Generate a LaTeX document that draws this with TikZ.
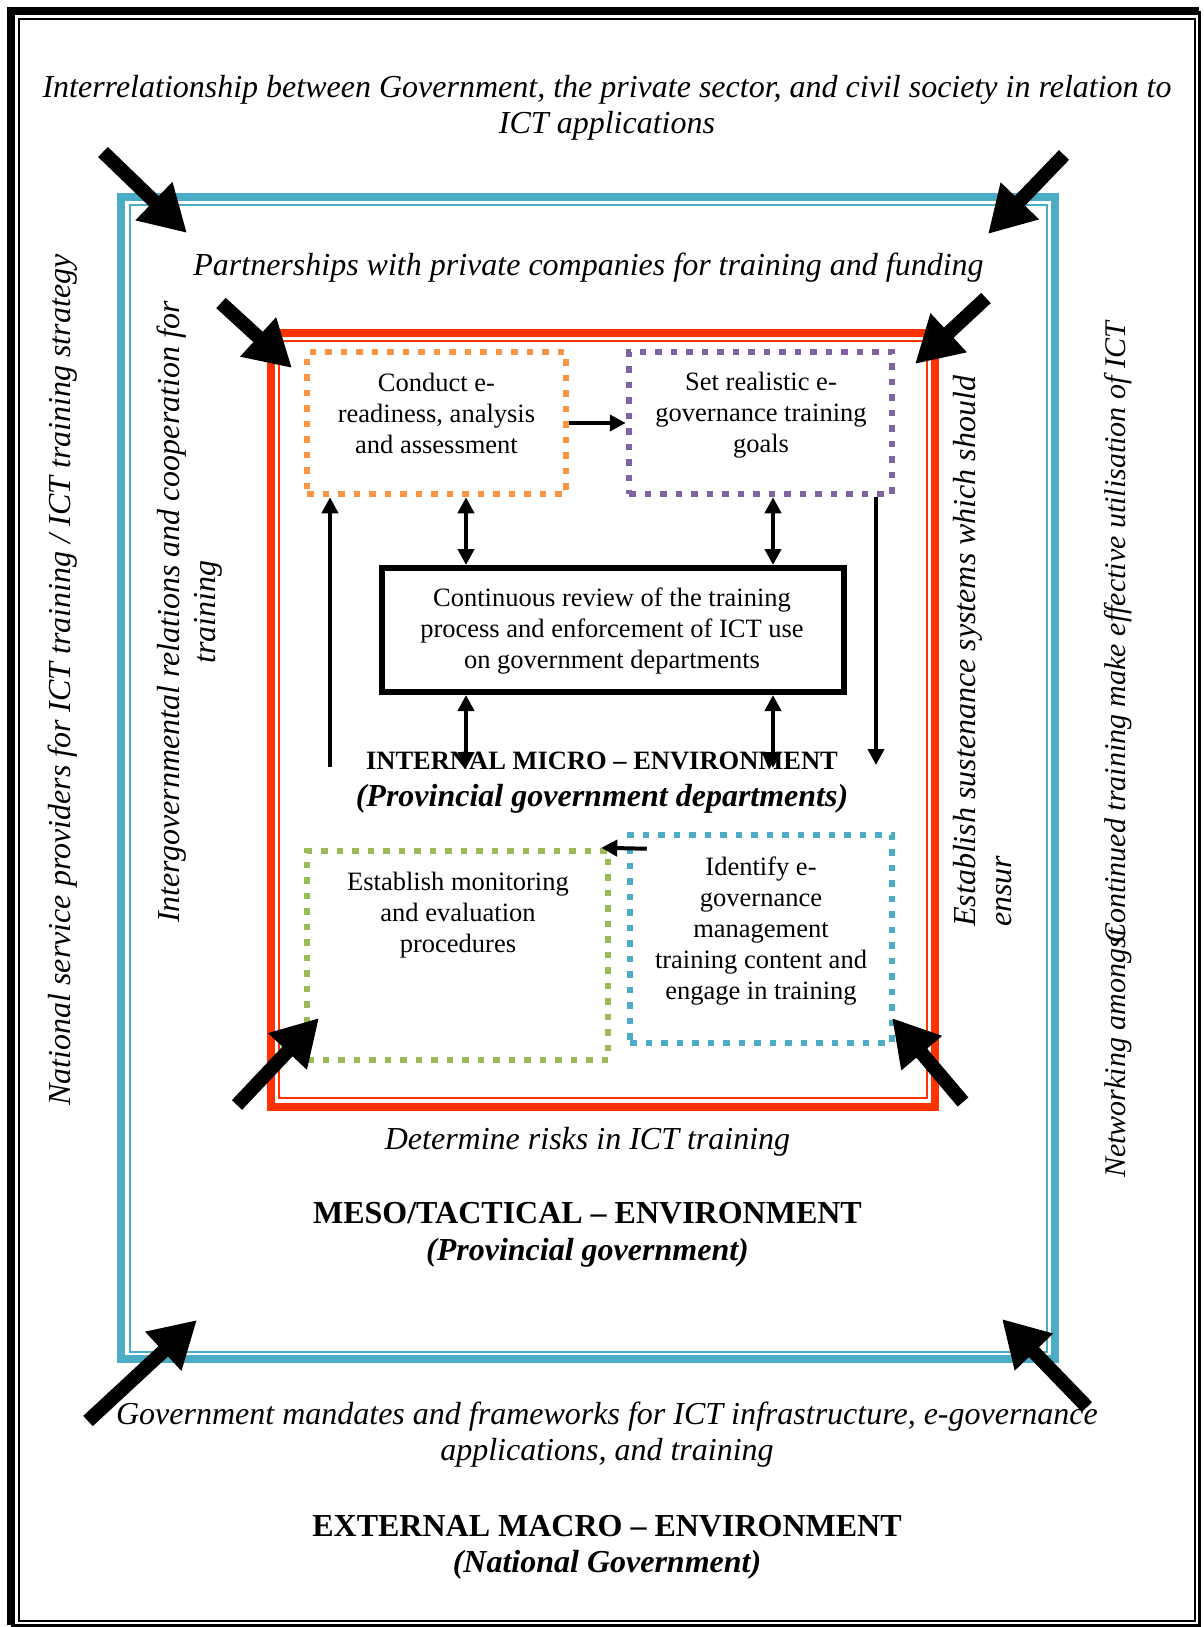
\documentclass[tikz,border=0pt]{standalone}
\usepackage{fontspec}
\setmainfont{Liberation Serif}
\usepackage{xcolor}
\usetikzlibrary{arrows.meta,positioning}

\definecolor{framered}{HTML}{FF3300}
\definecolor{frameblue}{HTML}{4BACC6}
\definecolor{dotorange}{HTML}{F79646}
\definecolor{dotpurple}{HTML}{8064A2}
\definecolor{dotgreen}{HTML}{9BBB59}
\definecolor{dotblue}{HTML}{4BACC6}

\begin{document}
\begin{tikzpicture}[x=1pt, y=-1pt,
  ititle/.style={font=\fontsize{32}{36}\selectfont\itshape, align=center},
  btitle/.style={font=\fontsize{32}{36}\selectfont\bfseries, align=center},
  bititle/.style={font=\fontsize{32}{36}\selectfont\bfseries\itshape, align=center},
  boxtext/.style={font=\fontsize{26.5}{31}\selectfont, align=center},
  dotbox/.style={draw=#1, line width=6.5pt, dash pattern=on 6.5pt off 9pt},
  bigarrow/.style={line width=14pt, -{Triangle[length=46pt,width=50pt]}},
  thinarrow/.style={line width=4pt, -{Triangle[length=16pt,width=16pt]}},
  dblarrow/.style={line width=4pt, {Triangle[length=16pt,width=16pt]}-{Triangle[length=16pt,width=16pt]}}]
\useasboundingbox (0,0) rectangle (1203,1627);

% outer page border
\draw[line width=1.5pt] (19,19) rectangle (1195,1621);
\draw[line width=8pt] (11,1625) -- (11,11) -- (1199,11);
\draw[line width=3pt] (1199,11) -- (1199,1625) -- (11,1625);

% meso frame
\draw[frameblue, line width=8pt] (121,196.5) rectangle (1054.5,1359);
\draw[frameblue, line width=2pt] (130,205) rectangle (1046.5,1351.5);

% micro frame
\draw[framered, line width=8pt] (271,333) rectangle (934.5,1106.5);
\draw[framered, line width=2pt] (279,341) rectangle (926.5,1098);

% steps
\node (conduct) [dotbox=dotorange, minimum width=259pt, minimum height=142pt] at (436.5,423) {};
\node (conducttxt) [boxtext] at (436.5,413) {Conduct e-\\readiness, analysis\\and assessment};
\node (setgoals) [dotbox=dotpurple, minimum width=263pt, minimum height=142pt] at (760.5,423) {};
\node (setgoalstxt) [boxtext] at (761,415) {Set realistic e-\\governance training\\goals};
\node (review) [draw, line width=6pt, minimum width=462pt, minimum height=124pt] at (613,630) {};
\node (reviewtxt) [boxtext] at (612,631) {Continuous review of the training\\process and enforcement of ICT use\\on government departments};
\node (monitor) [dotbox=dotgreen, minimum width=301pt, minimum height=209pt] at (457.5,955.5) {};
\node (monitortxt) [boxtext] at (458,915) {Establish monitoring\\and evaluation\\procedures};
\node (identify) [dotbox=dotblue, minimum width=262pt, minimum height=208pt] at (761,939) {};
\node (identifytxt) [boxtext] at (761,931) {Identify e-\\governance\\management\\training content and\\engage in training};

% labels
\node (title) [ititle] at (607,108) {Interrelationship between Government, the private sector, and civil society in relation to\\ICT applications};
\node (partner) [ititle] at (588.5,268) {Partnerships with private companies for training and funding};
\node (internal) [boxtext, font=\fontsize{26.5}{31}\selectfont\bfseries] at (602,761) {INTERNAL MICRO -- ENVIRONMENT};
\node (internalsub) [bititle] at (602,799) {(Provincial government departments)};
\node (risks) [ititle] at (587.5,1142) {Determine risks in ICT training};
\node (meso) [btitle] at (587.5,1213.5) {MESO/TACTICAL -- ENVIRONMENT};
\node (mesosub) [bititle] at (587.5,1253) {(Provincial government)};
\node (mandates) [ititle] at (607,1435) {Government mandates and frameworks for ICT infrastructure, e-governance\\applications, and training};
\node (macro) [btitle] at (607,1526) {EXTERNAL MACRO -- ENVIRONMENT};
\node (macrosub) [bititle] at (607,1565) {(National Government)};

% side labels
\node (national) [ititle, rotate=90] at (63,680) {National service providers for ICT training / ICT training strategy};
\node (intergov) [ititle, rotate=90] at (189.5,612) {Intergovernmental relations and cooperation for\\training};
\node (sustain) [ititle, rotate=90, anchor=west, align=left, inner sep=0pt] at (982.5,927) {Establish sustenance systems which should\\ensur};
\node (network) [ititle, font=\fontsize{30}{36}\selectfont\itshape, rotate=90, anchor=west, inner sep=0pt] at (1118,1178) {Networking amongst};
\node (continued) [ititle, font=\fontsize{30}{36}\selectfont\itshape, rotate=90, anchor=east, inner sep=0pt] at (1118,322) {Continued training make effective utilisation of ICT};

% arrows between the steps
\draw[thinarrow] (conduct.east) -- (setgoals.west);
\draw[dblarrow] ([xshift=29.5pt]conduct.south) -- ([xshift=29.5pt]conduct.south |- review.north);
\draw[dblarrow] ([xshift=12.5pt]setgoals.south) -- ([xshift=12.5pt]setgoals.south |- review.north);
\coordinate (lowL) at (466,768);
\coordinate (lowR) at (773,768);
\draw[dblarrow] (review.south -| lowL) -- (lowL);
\draw[dblarrow] (review.south -| lowR) -- (lowR);
\coordinate (upfoot) at (330,767);
\draw[thinarrow] (upfoot) -- (upfoot |- conduct.south);
\coordinate (downend) at (876,765);
\draw[thinarrow] (downend |- setgoals.south) -- (downend);
\draw[thinarrow] ([xshift=20pt,yshift=-17pt]identify.north west) -- ([xshift=-10pt]monitor.north east);

% block arrows pointing in
\foreach \n/\sx/\sy/\ex/\ey in {1/103/152/187/233, 2/1064/155/988/234, 3/221/303/292/368, 4/986/298/915/364,
  5/237/1105/319/1018, 6/963/1102/892/1018, 7/88/1421/197/1320, 8/1087/1407/1002/1319}{
  \coordinate (tail\n) at (\sx,\sy);
  \coordinate (head\n) at (\ex,\ey);
  \draw[bigarrow] (tail\n) -- (head\n);
}
\end{tikzpicture}
\end{document}
